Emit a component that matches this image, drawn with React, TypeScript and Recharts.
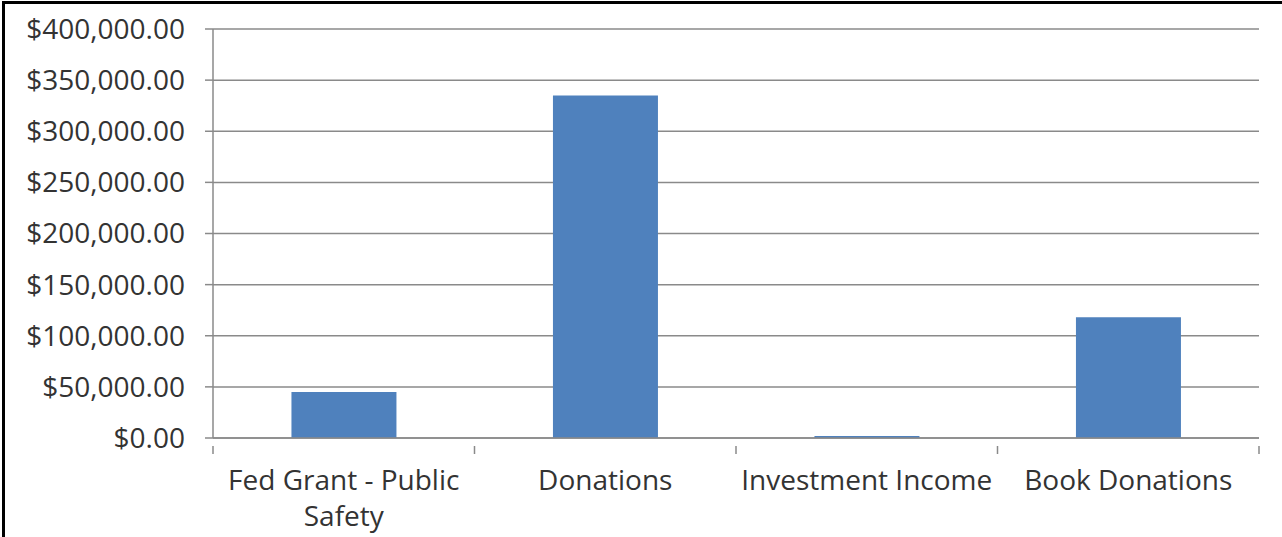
import React from "react";
import { BarChart, Bar, XAxis, YAxis, CartesianGrid } from "recharts";

const categories = ["Fed Grant - Public Safety", "Donations", "Investment Income", "Book Donations"];
const categoryLabelLines = [["Fed Grant - Public", "Safety"], ["Donations"], ["Investment Income"], ["Book Donations"]];
const amounts = [45000, 335000, 2000, 118000];
const yTicks = [0, 50000, 100000, 150000, 200000, 250000, 300000, 350000, 400000];

const data = categories.map((name, i) => ({ name, value: amounts[i] }));

const W = 1282;
const H = 537;
const margin = { top: 29, right: 23, left: 0, bottom: 0 };
const yAxisWidth = 213;
const xAxisHeight = H - 438 - margin.bottom;
const plotWidth = W - margin.left - margin.right - yAxisWidth;
const band = plotWidth / categories.length;

const FONT = "'Open Sans', 'DejaVu Sans', sans-serif";
const FS = 28;
const TEXT = "#333333";
const GRID = "#8a8a8a";

const fmt = (v: number) =>
  "$" + v.toLocaleString("en-US", { minimumFractionDigits: 2, maximumFractionDigits: 2 });

const XTick = (props: any) => {
  const { x, y, index } = props;
  const left = x - band / 2;
  const lines = categoryLabelLines[index] || [props.payload.value];
  return (
    <g>
      <line x1={left} y1={y} x2={left} y2={y + 8} stroke={GRID} strokeWidth={1.5} />
      {index === categories.length - 1 && (
        <line x1={x + band / 2} y1={y} x2={x + band / 2} y2={y + 8} stroke={GRID} strokeWidth={1.5} />
      )}
      <text x={x} y={y + 44} textAnchor="middle" fill={TEXT} style={{ fontFamily: FONT, fontSize: FS }}>
        {lines.map((l: string, i: number) => (
          <tspan key={i} x={x} dy={i === 0 ? 0 : 36}>
            {l}
          </tspan>
        ))}
      </text>
    </g>
  );
};

export default function App() {
  return (
    <div style={{ position: "absolute", left: 0, top: 0, width: W, height: H, background: "#fff" }}>
      <div
        style={{
          position: "absolute",
          left: 2,
          top: 1,
          width: W,
          height: H,
          borderLeft: "3px solid #000",
          borderTop: "3px solid #000",
          boxSizing: "border-box",
        }}
      />
      <BarChart width={W} height={H} data={data} margin={margin} barCategoryGap="30%" style={{ overflow: "visible" }}>
        <CartesianGrid vertical={false} stroke={GRID} strokeWidth={1.5} />
        <XAxis
          dataKey="name"
          height={xAxisHeight}
          interval={0}
          axisLine={{ stroke: GRID, strokeWidth: 1.5 }}
          tickLine={false}
          tick={<XTick />}
        />
        <YAxis
          width={yAxisWidth}
          domain={[0, 400000]}
          ticks={yTicks}
          interval={0}
          tickFormatter={fmt}
          tickSize={8}
          tickMargin={20}
          axisLine={{ stroke: GRID, strokeWidth: 1.5 }}
          tickLine={{ stroke: GRID, strokeWidth: 1.5 }}
          tick={{ fill: TEXT, fontFamily: FONT, fontSize: FS }}
        />
        <Bar dataKey="value" fill="#4F81BD" isAnimationActive={false} />
      </BarChart>
    </div>
  );
}
